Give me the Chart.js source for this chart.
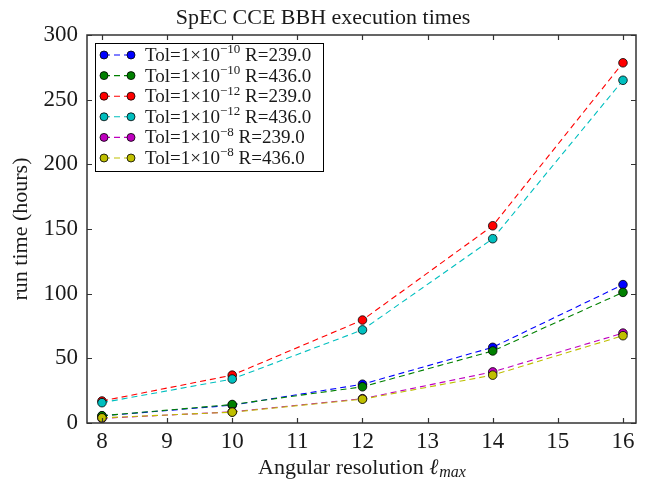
<!DOCTYPE html>
<html>
<head>
<meta charset="utf-8">
<script src="https://cdn.jsdelivr.net/npm/chart.js@4.4.1/dist/chart.umd.min.js"></script>
<style>
  body { margin: 0; background: #fff; }
  canvas { display: block; }
</style>
</head>
<body>
<canvas id="timesChart" width="646" height="483"></canvas>
<script>
// angular resolution values (x axis)
const lmax = [8, 10, 12, 14, 16];

// run times in hours
const tol10R239 = [5.5, 13.8, 30, 58.5, 107];
const tol10R436 = [5.6, 14.3, 28, 55.7, 101];
const tol12R239 = [17, 37, 79.6, 152.5, 278.5];
const tol12R436 = [15.7, 34, 72, 142.5, 265];
const tol8R239 = [3.6, 8.6, 18.8, 39.5, 69.5];
const tol8R436 = [4, 8.4, 18.4, 37, 67.5];

// legend pieces: tolerance exponent, extraction radius
const tolExps = ['\u221210', '\u221210', '\u221212', '\u221212', '\u22128', '\u22128'];
const radii = ['239.0', '436.0', '239.0', '436.0', '239.0', '436.0'];
const seriesColors = ['#0000ff', '#008000', '#ff0000', '#00bfbf', '#bf00bf', '#bfbf00'];
const allSeries = [tol10R239, tol10R436, tol12R239, tol12R436, tol8R239, tol8R436];

const serif = '"Liberation Serif", "DejaVu Serif", serif';
const frameColor = '#333333';
const textColor = '#1a1a1a';

function makeDataset(values, i) {
    return {
        label: 'Tol=1\u00d710' + tolExps[i] + ' R=' + radii[i],
        data: lmax.map((l, k) => ({ x: l, y: values[k] })),
        showLine: true,
        borderColor: seriesColors[i],
        borderWidth: 1.1,
        borderDash: [6, 4],
        pointBackgroundColor: seriesColors[i],
        pointBorderColor: '#000',
        pointBorderWidth: 0.8,
        pointRadius: 4.3,
        order: 5 - i
    };
}

// frame, inward ticks, titles and the boxed legend
const decorations = {
    id: 'decorations',
    afterDraw(chart) {
        const ctx = chart.ctx;
        const { left, right, top, bottom } = chart.chartArea;
        const xs = chart.scales.x, ys = chart.scales.y;
        ctx.save();
        ctx.strokeStyle = frameColor;
        ctx.lineWidth = 1.2;
        ctx.beginPath();
        xs.ticks.forEach(t => {
            const px = Math.round(xs.getPixelForValue(t.value)) + 0.5;
            ctx.moveTo(px, bottom); ctx.lineTo(px, bottom - 5);
            ctx.moveTo(px, top); ctx.lineTo(px, top + 5);
        });
        ys.ticks.forEach(t => {
            const py = Math.round(ys.getPixelForValue(t.value)) + 0.5;
            ctx.moveTo(left, py); ctx.lineTo(left + 5, py);
            ctx.moveTo(right, py); ctx.lineTo(right - 5, py);
        });
        ctx.stroke();
        ctx.lineWidth = 1.5;
        ctx.strokeRect(left, top, right - left, bottom - top);

        // title
        ctx.fillStyle = textColor;
        ctx.font = '22px ' + serif;
        ctx.textAlign = 'center';
        ctx.textBaseline = 'alphabetic';
        ctx.fillText('SpEC CCE BBH execution times', chart.width / 2, 24);

        // x axis title with italic subscript
        const xMain = 'Angular resolution ';
        ctx.font = '22px ' + serif;
        const w1 = ctx.measureText(xMain).width;
        ctx.font = 'italic 22px ' + serif;
        const w2 = ctx.measureText('\u2113').width;
        ctx.font = 'italic 16px ' + serif;
        const w3 = ctx.measureText('max').width;
        let x0 = (left + right) / 2 - (w1 + w2 + w3) / 2;
        const yb = 474;
        ctx.textAlign = 'left';
        ctx.font = '22px ' + serif;
        ctx.fillText(xMain, x0, yb);
        ctx.font = 'italic 22px ' + serif;
        ctx.fillText('\u2113', x0 + w1, yb);
        ctx.font = 'italic 16px ' + serif;
        ctx.fillText('max', x0 + w1 + w2 + 1, yb + 3);

        // y axis title
        ctx.save();
        ctx.translate(27, (top + bottom) / 2);
        ctx.rotate(-Math.PI / 2);
        ctx.textAlign = 'center';
        ctx.font = '22px ' + serif;
        ctx.fillText('run time (hours)', 0, 0);
        ctx.restore();

        // legend
        const lx = left + 8, ly = top + 8, lw = 228, lh = 128;
        ctx.fillStyle = '#fff';
        ctx.fillRect(lx, ly, lw, lh);
        ctx.strokeStyle = '#000';
        ctx.lineWidth = 1;
        ctx.strokeRect(lx + 0.5, ly + 0.5, lw, lh);
        chart.data.datasets.forEach((ds, i) => {
            const cy = ly + 12 + i * 20.6;
            const c1 = lx + 9, c2 = lx + 36;
            ctx.strokeStyle = ds.borderColor;
            ctx.lineWidth = 1.1;
            ctx.setLineDash([6, 4]);
            ctx.beginPath();
            ctx.moveTo(c1, cy); ctx.lineTo(c2, cy);
            ctx.stroke();
            ctx.setLineDash([]);
            [c1, c2].forEach(cx => {
                ctx.beginPath();
                ctx.arc(cx, cy, 4, 0, Math.PI * 2);
                ctx.fillStyle = ds.borderColor;
                ctx.fill();
                ctx.strokeStyle = '#000';
                ctx.lineWidth = 0.8;
                ctx.stroke();
            });
            ctx.fillStyle = textColor;
            ctx.textBaseline = 'middle';
            let tx = lx + 50;
            ctx.font = '19px ' + serif;
            ctx.fillText('Tol=1\u00d710', tx, cy + 1);
            tx += ctx.measureText('Tol=1\u00d710').width;
            ctx.font = '13px ' + serif;
            ctx.fillText(tolExps[i], tx, cy - 5);
            tx += ctx.measureText(tolExps[i]).width;
            ctx.font = '19px ' + serif;
            ctx.fillText(' R=' + radii[i], tx, cy + 1);
        });
        ctx.restore();
    }
};

new Chart(document.getElementById('timesChart').getContext('2d'), {
    type: 'scatter',
    data: { datasets: allSeries.map(makeDataset) },
    options: {
        responsive: false,
        animation: false,
        layout: { padding: { left: 0, top: 35, right: 10, bottom: 0 } },
        plugins: {
            legend: { display: false },
            title: { display: false },
            tooltip: { enabled: false }
        },
        scales: {
            x: {
                type: 'linear',
                min: 7.77,
                max: 16.2,
                grid: { display: false, drawTicks: false },
                border: { display: false },
                ticks: {
                    stepSize: 1,
                    includeBounds: false,
                    padding: 5,
                    color: textColor,
                    font: { family: serif, size: 23 }
                },
                afterFit(scale) { scale.height = 60; }
            },
            y: {
                min: 0,
                max: 300,
                grid: { display: false, drawTicks: false },
                border: { display: false },
                ticks: {
                    stepSize: 50,
                    padding: 9,
                    color: textColor,
                    font: { family: serif, size: 23 }
                },
                afterFit(scale) { scale.width = 87; }
            }
        }
    },
    plugins: [decorations]
});
</script>
</body>
</html>
